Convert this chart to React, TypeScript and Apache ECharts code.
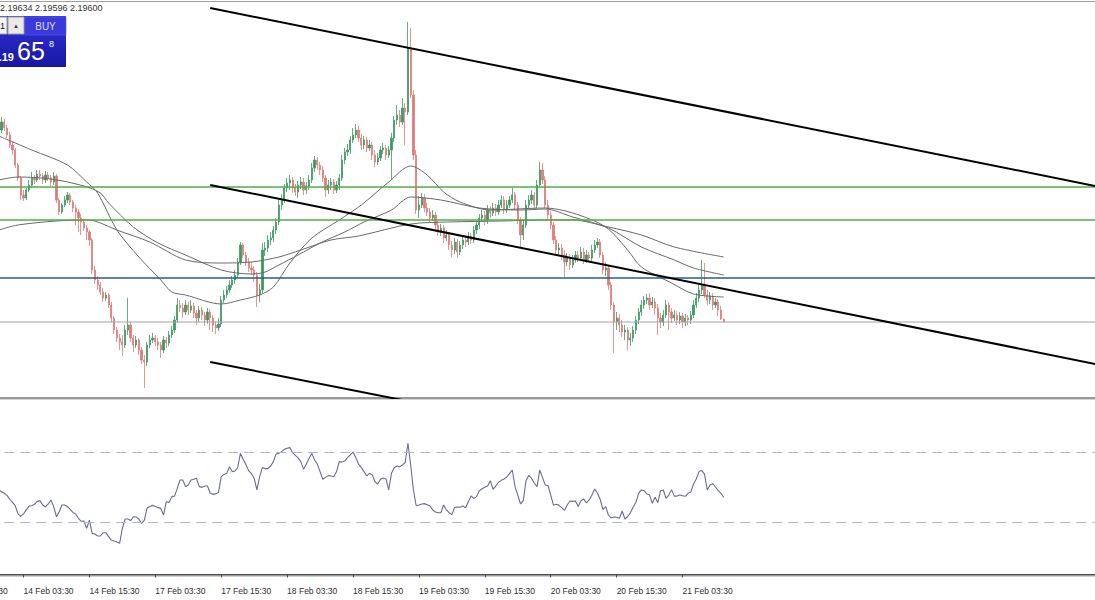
import React, { useEffect, useRef } from "react";
import * as echarts from "echarts";

// ---------------- data ----------------
const FIRST_BAR = 15; // category index of the first candle
const FIRST_OPEN = 2.2147;

const closes = [
  2.2152, 2.216, 2.2154, 2.2147, 2.2137, 2.2132, 2.2117, 2.2104, 2.2087, 2.2084,
  2.2092, 2.2097, 2.2104, 2.2102, 2.2108, 2.2106, 2.2102, 2.2107, 2.2104, 2.21,
  2.2106, 2.2082, 2.207, 2.2077, 2.2082, 2.2087, 2.208, 2.2074, 2.207, 2.2064,
  2.206, 2.2054, 2.205, 2.2042, 2.2012, 2.2002, 2.1997, 2.199, 2.1984, 2.1987,
  2.1977, 2.1964, 2.1952, 2.1944, 2.194, 2.1937, 2.1952, 2.1957, 2.1944, 2.1937,
  2.1942, 2.1932, 2.1922, 2.192, 2.1937, 2.1942, 2.1944, 2.194, 2.1937, 2.1932,
  2.1942, 2.1939, 2.1947, 2.1952, 2.1962, 2.1977, 2.1974, 2.197, 2.1977, 2.1972,
  2.1976, 2.1969, 2.1964, 2.1972, 2.1967, 2.1962, 2.197, 2.1964, 2.1957, 2.1954,
  2.1958, 2.1982, 2.1987, 2.1992, 2.1997, 2.2002, 2.2007, 2.202, 2.2037, 2.2027,
  2.202, 2.2014, 2.2012, 2.2007, 2.1987, 2.1992, 2.2032, 2.2034, 2.2042, 2.2044,
  2.2052, 2.206, 2.2077, 2.2082, 2.2094, 2.2099, 2.2102, 2.2094, 2.209, 2.2097,
  2.21, 2.2092, 2.2096, 2.2102, 2.2114, 2.2122, 2.2117, 2.2112, 2.2104, 2.2092,
  2.2097, 2.21, 2.2092, 2.2097, 2.2104, 2.2122, 2.213, 2.2132, 2.2142, 2.2147,
  2.2152, 2.2144, 2.2137, 2.2142, 2.2134, 2.2137, 2.2127, 2.212, 2.2124, 2.2132,
  2.2134, 2.2127, 2.2132, 2.2144, 2.2162, 2.2167, 2.216, 2.2174, 2.217, 2.2234,
  2.2187, 2.2127, 2.2072, 2.2077, 2.2084, 2.2074, 2.207, 2.2064, 2.2067, 2.2057,
  2.205, 2.2054, 2.2044, 2.2047, 2.2037, 2.2032, 2.204, 2.203, 2.2037, 2.2042,
  2.204, 2.2046, 2.2042, 2.2052, 2.2057, 2.2064, 2.2067, 2.2062, 2.2072, 2.2069,
  2.2074, 2.207, 2.2077, 2.2082, 2.2072, 2.2077, 2.2082, 2.2087, 2.2077, 2.2062,
  2.2047, 2.2057, 2.2077, 2.2082, 2.2087, 2.2077, 2.2097, 2.2112, 2.2102, 2.2077,
  2.2067, 2.2057, 2.2042, 2.2032, 2.2034, 2.2027, 2.202, 2.2024, 2.2017, 2.2022,
  2.2027, 2.2024, 2.203, 2.2022, 2.2027, 2.2024, 2.2032, 2.2037, 2.204, 2.2027,
  2.2012, 2.2014, 2.1997, 2.1977, 2.196, 2.1964, 2.1957, 2.195, 2.1952, 2.1942,
  2.1944, 2.1952, 2.1962, 2.197, 2.1977, 2.1982, 2.1984, 2.1977, 2.198, 2.1974,
  2.1964, 2.196, 2.1967, 2.1977, 2.197, 2.1964, 2.1967, 2.1962, 2.1966, 2.196,
  2.1964, 2.1962, 2.1967, 2.1977, 2.1984, 2.1992, 2.1997, 2.1987, 2.1982, 2.1986,
  2.1977, 2.198, 2.1972, 2.1963, 2.196,
];

const highs = [
  2.2156, 2.2165, 2.2163, 2.2157, 2.215, 2.214, 2.2134, 2.2119, 2.2106, 2.2092,
  2.2094, 2.2102, 2.211, 2.2107, 2.2112, 2.2112, 2.2109, 2.2111, 2.211, 2.2107,
  2.211, 2.2108, 2.2084, 2.2079, 2.2086, 2.209, 2.2089, 2.2082, 2.2077, 2.2073,
  2.2068, 2.2063, 2.2057, 2.2052, 2.2044, 2.2016, 2.2006, 2.2, 2.1994, 2.199,
  2.1989, 2.198, 2.1966, 2.1955, 2.1948, 2.1947, 2.1957, 2.1984, 2.196, 2.1947,
  2.1946, 2.1944, 2.1935, 2.1927, 2.194, 2.1947, 2.1949, 2.1947, 2.1944, 2.194,
  2.1946, 2.1945, 2.1951, 2.1956, 2.1966, 2.1984, 2.1982, 2.1979, 2.1982, 2.198,
  2.1982, 2.1979, 2.1972, 2.1976, 2.1975, 2.197, 2.1974, 2.1973, 2.1967, 2.1961,
  2.1964, 2.1986, 2.1992, 2.1996, 2.2002, 2.2006, 2.2012, 2.2024, 2.204, 2.2039,
  2.203, 2.2024, 2.202, 2.2016, 2.201, 2.1998, 2.2039, 2.204, 2.2047, 2.205,
  2.2056, 2.2064, 2.2082, 2.2088, 2.2098, 2.2104, 2.2107, 2.2105, 2.2098, 2.2101,
  2.2105, 2.2104, 2.21, 2.2107, 2.2119, 2.2126, 2.2125, 2.212, 2.2116, 2.2107,
  2.2102, 2.2104, 2.2103, 2.2101, 2.2108, 2.2127, 2.2134, 2.2138, 2.2146, 2.2154,
  2.2158, 2.2156, 2.2148, 2.2146, 2.2145, 2.2142, 2.214, 2.2132, 2.2129, 2.2136,
  2.2139, 2.2137, 2.2136, 2.2149, 2.2166, 2.2177, 2.2172, 2.2184, 2.2179, 2.226,
  2.2254, 2.2192, 2.2132, 2.2086, 2.2089, 2.2088, 2.2079, 2.2074, 2.2072, 2.207,
  2.2061, 2.2058, 2.2057, 2.2052, 2.205, 2.2041, 2.2044, 2.2043, 2.2041, 2.2046,
  2.2046, 2.205, 2.2049, 2.2056, 2.2062, 2.2068, 2.2072, 2.2071, 2.2077, 2.2076,
  2.2079, 2.2078, 2.2082, 2.2087, 2.2086, 2.2082, 2.2086, 2.2094, 2.209, 2.208,
  2.2065, 2.2062, 2.2082, 2.2087, 2.2092, 2.209, 2.2102, 2.212, 2.2119, 2.2106,
  2.2082, 2.2071, 2.206, 2.2046, 2.2039, 2.2038, 2.2032, 2.2029, 2.2028, 2.2027,
  2.2031, 2.2031, 2.2035, 2.2034, 2.2032, 2.203, 2.2037, 2.2042, 2.2044, 2.2043,
  2.203, 2.202, 2.2017, 2.2, 2.198, 2.197, 2.1968, 2.1962, 2.1957, 2.1955,
  2.1949, 2.1956, 2.1966, 2.1974, 2.1982, 2.1986, 2.1988, 2.1989, 2.1985, 2.1984,
  2.1978, 2.1969, 2.1972, 2.1982, 2.198, 2.1974, 2.1972, 2.1971, 2.197, 2.1969,
  2.1968, 2.1967, 2.1971, 2.1982, 2.1989, 2.1997, 2.2022, 2.2019, 2.1992, 2.199,
  2.1989, 2.1984, 2.1983, 2.1976, 2.19634,
];

const lows = [
  2.2144, 2.2149, 2.2151, 2.2144, 2.2134, 2.2127, 2.2114, 2.2101, 2.2082, 2.2081,
  2.2082, 2.209, 2.2094, 2.2098, 2.21, 2.2102, 2.2098, 2.2099, 2.2101, 2.2096,
  2.2097, 2.2079, 2.2067, 2.2068, 2.2075, 2.2079, 2.2077, 2.207, 2.2057, 2.205,
  2.2047, 2.2051, 2.2042, 2.2036, 2.2008, 2.1998, 2.1992, 2.1987, 2.198, 2.1981,
  2.1974, 2.196, 2.1948, 2.194, 2.1932, 2.1926, 2.1934, 2.1947, 2.194, 2.193,
  2.1934, 2.1927, 2.1918, 2.1894, 2.1916, 2.1934, 2.1939, 2.1936, 2.1932, 2.1924,
  2.1929, 2.1934, 2.1936, 2.1944, 2.1949, 2.1959, 2.197, 2.1964, 2.1967, 2.1967,
  2.1969, 2.1964, 2.1957, 2.196, 2.1962, 2.1956, 2.1958, 2.1952, 2.195, 2.1948,
  2.1951, 2.1955, 2.1979, 2.1984, 2.1989, 2.1994, 2.1998, 2.2004, 2.2017, 2.2024,
  2.2016, 2.201, 2.2007, 2.2, 2.1975, 2.198, 2.1989, 2.2026, 2.203, 2.2037,
  2.204, 2.2048, 2.2057, 2.2072, 2.2079, 2.209, 2.2092, 2.2089, 2.2086, 2.2084,
  2.2093, 2.2087, 2.2088, 2.2092, 2.2099, 2.211, 2.2112, 2.2107, 2.21, 2.2085,
  2.2088, 2.2092, 2.2088, 2.2089, 2.2092, 2.2101, 2.2118, 2.2126, 2.2128, 2.2139,
  2.2144, 2.214, 2.2132, 2.2133, 2.213, 2.2131, 2.2122, 2.2115, 2.2117, 2.2121,
  2.2128, 2.2122, 2.2124, 2.2102, 2.214, 2.2157, 2.2155, 2.2157, 2.2137, 2.2167,
  2.2184, 2.2122, 2.2068, 2.2064, 2.2074, 2.207, 2.2066, 2.206, 2.2061, 2.2053,
  2.2046, 2.2046, 2.2039, 2.2041, 2.2032, 2.2025, 2.2028, 2.2024, 2.2027, 2.2033,
  2.2035, 2.2037, 2.2038, 2.2039, 2.2048, 2.2053, 2.206, 2.2057, 2.2058, 2.2064,
  2.2066, 2.2066, 2.2067, 2.2074, 2.2068, 2.2069, 2.2074, 2.2079, 2.2072, 2.2058,
  2.2034, 2.2042, 2.2054, 2.2074, 2.2078, 2.2073, 2.2074, 2.2094, 2.2098, 2.2074,
  2.2063, 2.2053, 2.2038, 2.2028, 2.2026, 2.2022, 2.2005, 2.2016, 2.2012, 2.2014,
  2.2019, 2.202, 2.2021, 2.2018, 2.2019, 2.202, 2.2021, 2.2029, 2.2034, 2.2024,
  2.2008, 2.2006, 2.1992, 2.1972, 2.1929, 2.1952, 2.195, 2.1945, 2.1942, 2.1932,
  2.1936, 2.194, 2.1948, 2.1958, 2.1966, 2.1973, 2.1978, 2.1972, 2.1974, 2.1967,
  2.1947, 2.1954, 2.1956, 2.1964, 2.1952, 2.1959, 2.1961, 2.1957, 2.1958, 2.1954,
  2.1956, 2.1957, 2.1958, 2.1964, 2.1974, 2.198, 2.1988, 2.1984, 2.1977, 2.1978,
  2.1972, 2.1974, 2.1966, 2.1962, 2.19596,
];

const rsiValues = [
  48.3, 47.3, 46.4, 45.2, 43.0, 41.2, 39.3, 34.6, 33.2, 34.6,
  36.9, 39.1, 39.3, 40.1, 41.8, 42.2, 39.7, 38.6, 40.3, 42.6,
  38.8, 33.0, 35.9, 39.7, 39.7, 38.8, 37.2, 35.5, 34.6, 32.1,
  30.4, 30.6, 26.4, 31.1, 23.5, 23.1, 22.0, 22.0, 23.9, 23.9,
  21.6, 19.7, 19.1, 18.6, 17.8, 26.4, 31.7, 31.7, 30.8, 33.0,
  32.9, 31.7, 29.2, 31.1, 38.0, 38.8, 39.5, 38.8, 38.2, 37.8,
  34.0, 41.6, 41.2, 44.5, 44.8, 49.2, 54.0, 54.0, 50.2, 51.1,
  54.0, 54.4, 55.0, 50.2, 49.8, 50.6, 50.6, 46.4, 45.8, 46.2,
  46.8, 55.9, 57.2, 57.8, 61.6, 58.8, 59.1, 61.0, 69.2, 65.8,
  62.8, 59.3, 57.6, 55.0, 48.3, 55.9, 61.2, 60.5, 60.5, 62.0,
  64.5, 68.9, 69.2, 70.2, 71.5, 72.1, 72.5, 69.6, 68.1, 66.6,
  64.5, 60.1, 63.1, 66.4, 69.2, 65.4, 63.1, 58.8, 54.4, 55.5,
  56.5, 56.3, 55.9, 58.8, 64.5, 64.3, 64.9, 66.8, 68.3, 70.0,
  66.8, 63.1, 61.2, 58.8, 56.3, 57.8, 56.9, 53.0, 51.7, 54.4,
  55.1, 54.6, 48.3, 57.8, 61.0, 62.0, 61.6, 62.6, 64.0, 75.0,
  62.6, 48.3, 39.3, 39.7, 40.3, 40.5, 39.9, 39.3, 36.9, 35.7,
  35.3, 35.3, 39.7, 36.9, 35.3, 34.2, 38.4, 38.6, 38.4, 39.1,
  38.2, 41.6, 44.9, 43.5, 44.5, 47.9, 49.0, 49.8, 50.6, 53.6,
  48.7, 50.6, 52.7, 53.8, 54.6, 55.7, 57.8, 59.7, 50.2, 45.4,
  40.3, 42.2, 53.6, 56.7, 55.0, 52.3, 50.2, 59.7, 55.5, 51.1,
  50.9, 45.4, 39.7, 40.1, 39.5, 38.2, 36.7, 39.7, 42.0, 41.8,
  42.0, 38.8, 42.2, 43.1, 40.9, 42.6, 45.4, 48.9, 46.4, 43.0,
  37.2, 38.8, 34.0, 32.3, 32.9, 32.7, 32.1, 36.3, 31.7, 33.0,
  35.3, 38.4, 41.2, 46.4, 48.3, 47.9, 46.0, 45.4, 40.7, 44.1,
  41.0, 47.9, 48.3, 43.5, 45.4, 48.5, 44.8, 44.8, 45.4, 45.0,
  44.7, 46.4, 47.1, 51.7, 54.6, 58.8, 59.4, 57.4, 48.3, 51.1,
  51.9, 50.0, 47.9, 46.4, 44.1,
];

// moving averages: [bar index, price]
const maFast = [
  [15, 2.2146], [27, 2.2132], [40, 2.2117], [47, 2.21], [51, 2.2089], [58, 2.2052],
  [66, 2.2025], [74, 2.2002], [78, 2.199], [83, 2.1987], [96, 2.1978], [103, 2.1982],
  [110, 2.1987], [115, 2.1995], [121, 2.2019], [129, 2.2044], [139, 2.2062], [147, 2.2077],
  [157, 2.21], [165, 2.2116], [171, 2.2107], [177, 2.209], [183, 2.208], [194, 2.2072],
  [214, 2.2074], [224, 2.2069], [236, 2.2055], [244, 2.2032], [249, 2.2015], [260, 2.1999],
  [268, 2.1988], [279, 2.1985],
];
const maMid = [
  [15, 2.2102], [22, 2.2105], [34, 2.2103], [46, 2.2096], [52, 2.2089], [55, 2.2079],
  [64, 2.2055], [73, 2.2039], [83, 2.2027], [96, 2.2012], [107, 2.2008], [112, 2.201],
  [117, 2.2017], [124, 2.2027], [132, 2.2039], [141, 2.205], [148, 2.206], [158, 2.2072],
  [165, 2.2085], [176, 2.2082], [190, 2.2074], [205, 2.2072], [214, 2.2073], [224, 2.2065],
  [237, 2.2054], [249, 2.2035], [261, 2.2022], [268, 2.2014], [279, 2.2007],
];
const maSlow = [
  [15, 2.2052], [22, 2.2057], [36, 2.2061], [48, 2.2062], [52, 2.2059], [58, 2.2052],
  [70, 2.204], [83, 2.2022], [96, 2.2019], [107, 2.202], [117, 2.2025], [125, 2.2032],
  [136, 2.2042], [146, 2.2046], [165, 2.2058], [179, 2.206], [198, 2.2061], [214, 2.2062],
  [224, 2.2062], [237, 2.2055], [249, 2.2047], [261, 2.2035], [279, 2.2025],
];

const tickLabels = [
  "13 Feb 15:30", "14 Feb 03:30", "14 Feb 15:30", "17 Feb 03:30", "17 Feb 15:30",
  "18 Feb 03:30", "18 Feb 15:30", "19 Feb 03:30", "19 Feb 15:30", "20 Feb 03:30",
  "20 Feb 15:30", "21 Feb 03:30",
];
const TICK_EVERY = 24;
const TOTAL_SLOTS = 430;

const greenLevels = [2.2095, 2.2062];
const blueLevel = 2.2004;
const bidLevel = 2.196;
const channelUpper = [[92, 2.2274], [419, 2.20934]];
const channelMiddle = [[92, 2.2097], [419, 2.19154]];
const channelLower = [[92, 2.192], [419, 2.17422]];
const rsiLevels = [70, 30];
const PRICE_MIN = 2.1884;
const PRICE_MAX = 2.2282;

const headerText = "2.19634 2.19596 2.19600";
const askHead = "2.19";
const askBig = "65";
const askPip = "8";

// ---------------- layout ----------------
const SHIFT = 60; // hidden strip at the left
const BAR_PX = 2.746;
const GRID_LEFT = SHIFT - 42.4 - BAR_PX / 2;
const GRID_WIDTH = TOTAL_SLOTS * BAR_PX;
const W = 1260;
const FONT = '"Liberation Sans", Arial, sans-serif';
const BULL = "#3a9a62";
const BEAR = "#e27b77";
const MA_COLOR = "#6a6a6a";

export default function App() {
  const ref = useRef<HTMLDivElement>(null);

  useEffect(() => {
    if (!ref.current) return;
    const chart = echarts.init(ref.current, undefined, { renderer: "svg" });

    const cats = Array.from({ length: TOTAL_SLOTS }, (_, i) => String(i));
    const candles = closes.map((c, k) => {
      const o = k === 0 ? FIRST_OPEN : closes[k - 1];
      return [FIRST_BAR + k, o, c, lows[k], highs[k]];
    });
    const rsiData = rsiValues.map((v, k) => [FIRST_BAR + k, v]);

    const isTick = (i: number) => i % TICK_EVERY === 0 && i / TICK_EVERY < tickLabels.length;

    const maSeries = (data: number[][]) => ({
      type: "line",
      xAxisIndex: 0,
      yAxisIndex: 0,
      data,
      showSymbol: false,
      smooth: 0.3,
      lineStyle: { color: MA_COLOR, width: 1 },
      z: 4,
      silent: true,
    });
    const trend = (data: number[][]) => ({
      type: "line",
      xAxisIndex: 0,
      yAxisIndex: 0,
      data,
      showSymbol: false,
      lineStyle: { color: "#000", width: 2 },
      z: 6,
      silent: true,
    });
    const level = (v: number, color: string, width: number) => ({
      type: "line",
      xAxisIndex: 0,
      yAxisIndex: 0,
      data: [
        [0, v],
        [TOTAL_SLOTS - 1, v],
      ],
      showSymbol: false,
      lineStyle: { color, width },
      z: 5,
      silent: true,
    });

    const sx = (x: number) => x + SHIFT;

    const option: any = {
      animation: false,
      backgroundColor: "#ffffff",
      textStyle: { fontFamily: FONT },
      grid: [
        { left: GRID_LEFT, width: GRID_WIDTH, top: 0, height: 398 },
        { left: GRID_LEFT, width: GRID_WIDTH, top: 399.5, height: 175 },
      ],
      xAxis: [
        {
          type: "category",
          gridIndex: 0,
          data: cats,
          boundaryGap: true,
          show: false,
        },
        {
          type: "category",
          gridIndex: 1,
          data: cats,
          boundaryGap: true,
          position: "bottom",
          offset: 8.5,
          axisLine: { show: true, lineStyle: { color: "#4a4a4a", width: 1 } },
          axisTick: {
            show: true,
            alignWithLabel: true,
            length: 3,
            interval: (i: number) => isTick(i),
            lineStyle: { color: "#4a4a4a" },
          },
          axisLabel: {
            show: true,
            interval: (i: number) => isTick(i),
            formatter: (_v: string, i: number) => (isTick(i) ? tickLabels[i / TICK_EVERY] : ""),
            align: "left",
            margin: 3,
            fontSize: 8.5,
            color: "#2e2e2e",
            fontFamily: FONT,
          },
          splitLine: { show: false },
        },
      ],
      yAxis: [
        { type: "value", gridIndex: 0, min: PRICE_MIN, max: PRICE_MAX, show: false, splitLine: { show: false } },
        { type: "value", gridIndex: 1, min: 0, max: 100, show: false, splitLine: { show: false } },
      ],
      series: [
        {
          type: "candlestick",
          xAxisIndex: 0,
          yAxisIndex: 0,
          data: candles,
          encode: { x: 0, y: [1, 2, 3, 4] },
          barWidth: 1.7,
          itemStyle: {
            color: BULL,
            color0: BEAR,
            borderColor: BULL,
            borderColor0: BEAR,
            borderWidth: 0.8,
          },
          z: 3,
          silent: true,
        },
        ...greenLevels.map((v) => level(v, "#4fae4a", 1.4)),
        level(blueLevel, "#275d8a", 1.5),
        level(bidLevel, "#a3a3a3", 1),
        maSeries(maSlow),
        maSeries(maMid),
        maSeries(maFast),
        trend(channelUpper),
        trend(channelMiddle),
        trend(channelLower),
        {
          type: "line",
          xAxisIndex: 1,
          yAxisIndex: 1,
          data: rsiData,
          showSymbol: false,
          lineStyle: { color: "#6a6a9c", width: 1.1 },
          silent: true,
          z: 4,
          markLine: {
            silent: true,
            symbol: ["none", "none"],
            label: { show: false },
            data: rsiLevels.map((v) => ({ yAxis: v })),
            lineStyle: { color: "#b4b4cc", width: 1, type: [10, 6] },
          },
        },
      ],
      graphic: [
        { type: "rect", silent: true, shape: { x: 0, y: 1, width: W, height: 1 }, style: { fill: "#9f9f9f" } },
        { type: "rect", silent: true, shape: { x: 0, y: 397, width: W, height: 2 }, style: { fill: "#999999" } },
        { type: "rect", silent: true, shape: { x: 0, y: 399, width: W, height: 1 }, style: { fill: "#d4d4d4" } },
        { type: "rect", silent: true, shape: { x: 0, y: 574, width: W, height: 2 }, style: { fill: "#9a9a9a" } },
        { type: "rect", silent: true, shape: { x: 0, y: 576, width: W, height: 1 }, style: { fill: "#cfcfcf" } },
        {
          type: "text",
          silent: true,
          x: sx(0),
          y: 8,
          style: { text: headerText, font: `9px ${FONT}`, fill: "#333", verticalAlign: "middle" },
        },
        // one-click trading panel
        {
          type: "rect",
          silent: true,
          shape: { x: sx(-2), y: 16, width: 68, height: 51 },
          style: {
            fill: new echarts.graphic.LinearGradient(0, 0, 0, 1, [
              { offset: 0, color: "#3434d6" },
              { offset: 1, color: "#1616a6" },
            ]),
          },
        },
        {
          type: "rect",
          silent: true,
          shape: { x: sx(-2), y: 17, width: 9, height: 17 },
          style: { fill: "#f4f4f4", stroke: "#9a9a9a", lineWidth: 1 },
        },
        {
          type: "text",
          silent: true,
          x: sx(5),
          y: 25.5,
          style: { text: "0.01", font: `9px ${FONT}`, fill: "#222", align: "right", verticalAlign: "middle" },
        },
        {
          type: "rect",
          silent: true,
          shape: { x: sx(8), y: 17, width: 16, height: 17 },
          style: { fill: "#e9e9e9", stroke: "#a0a0a0", lineWidth: 1 },
        },
        {
          type: "text",
          silent: true,
          x: sx(16),
          y: 25.5,
          style: { text: "▲", font: `6px ${FONT}`, fill: "#333", align: "center", verticalAlign: "middle" },
        },
        {
          type: "rect",
          silent: true,
          shape: { x: sx(25), y: 17, width: 41, height: 18 },
          style: { fill: "#3a3adb", stroke: "#5a5ae8", lineWidth: 0.6 },
        },
        {
          type: "text",
          silent: true,
          x: sx(45.5),
          y: 26.5,
          style: { text: "BUY", font: `10px ${FONT}`, fill: "#dcdcff", align: "center", verticalAlign: "middle" },
        },
        {
          type: "text",
          silent: true,
          x: sx(14),
          y: 57,
          style: { text: askHead, font: `bold 11px ${FONT}`, fill: "#ffffff", align: "right", verticalAlign: "middle" },
        },
        {
          type: "text",
          silent: true,
          x: sx(17),
          y: 51,
          style: { text: askBig, font: `25px ${FONT}`, fill: "#ffffff", align: "left", verticalAlign: "middle" },
        },
        {
          type: "text",
          silent: true,
          x: sx(49),
          y: 44,
          style: { text: askPip, font: `9px ${FONT}`, fill: "#ffffff", align: "left", verticalAlign: "middle" },
        },
      ],
    };

    chart.setOption(option);
    return () => chart.dispose();
  }, []);

  return (
    <div
      style={{
        position: "fixed",
        left: 0,
        top: 0,
        width: 1095,
        height: 600,
        overflow: "hidden",
        background: "#fff",
      }}
    >
      <div ref={ref} style={{ position: "absolute", left: -SHIFT, top: 0, width: W, height: 600 }} />
    </div>
  );
}
